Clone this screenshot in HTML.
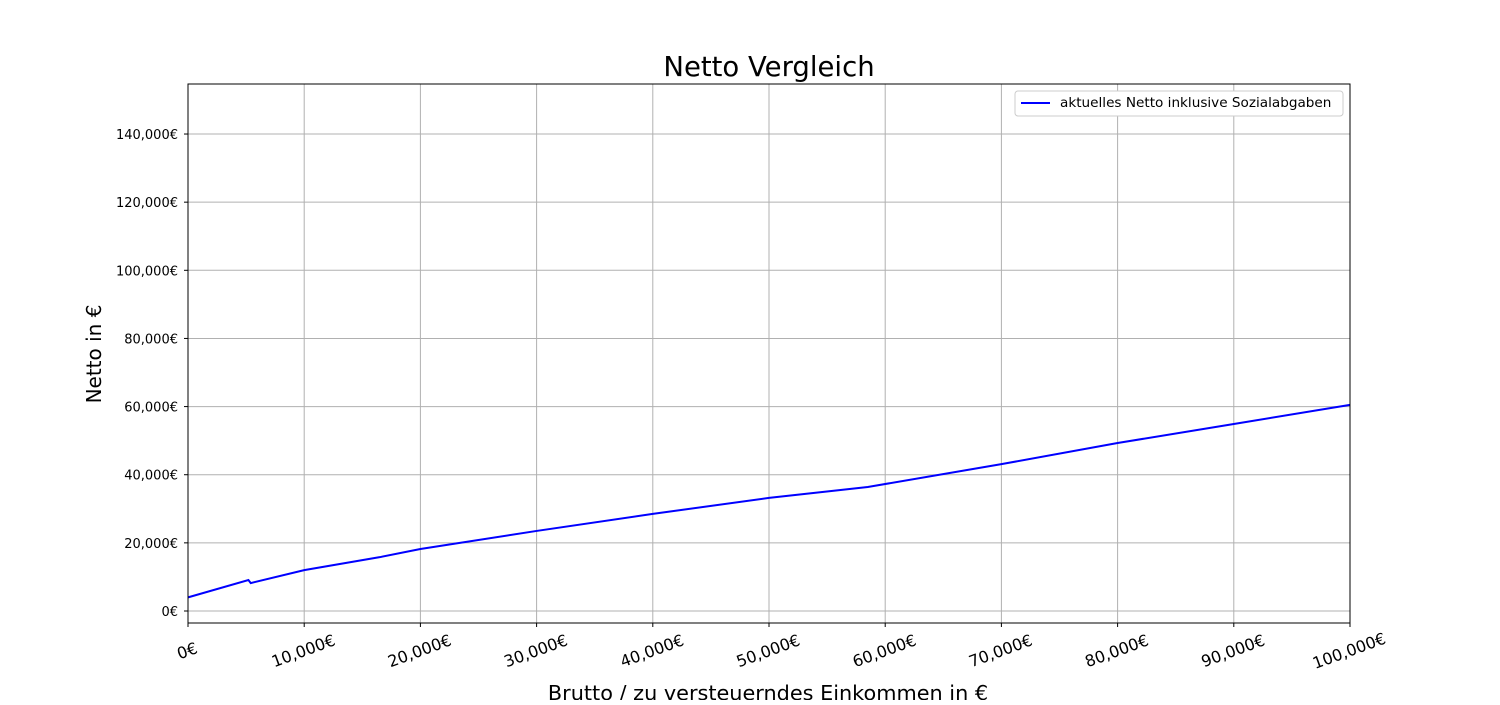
<!DOCTYPE html>
<html><head><meta charset="utf-8"><style>
body{margin:0;background:#fff;font-family:"Liberation Sans","DejaVu Sans",sans-serif}
</style></head><body>
<svg id="chart" width="1500" height="700" xmlns="http://www.w3.org/2000/svg" font-family="DejaVu Sans, Liberation Sans, sans-serif">
<text x="769" y="76" font-size="27.5" text-anchor="middle">Netto Vergleich</text>
<g id="grid"></g>
<g id="plot"></g>
<rect x="188" y="84" width="1162" height="539" fill="none" stroke="#000" stroke-width="1"/>
<g id="ticks"></g>
<text transform="translate(101,354) rotate(-90)" font-size="20" text-anchor="middle">Netto in €</text>
<text x="768" y="700" font-size="20.8" text-anchor="middle">Brutto / zu versteuerndes Einkommen in €</text>
<g>
<rect x="1015" y="91" width="328" height="25" rx="3" fill="#fff" stroke="#ccc"/>
<line x1="1021" y1="103" x2="1050" y2="103" stroke="#0000ff" stroke-width="2"/>
<text x="1060" y="107" font-size="13.6">aktuelles Netto inklusive Sozialabgaben</text>
</g>
</svg>
<script>
const xTicks=[0,10000,20000,30000,40000,50000,60000,70000,80000,90000,100000];
const yTicks=[0,20000,40000,60000,80000,100000,120000,140000];
const brutto=[0,5200,5400,10000,16500,20000,30000,40000,50000,58500,70000,80000,90000,100000];
const netto=[4000,9100,8200,12000,15800,18200,23500,28500,33200,36400,43100,49300,54900,60500];
const NS='http://www.w3.org/2000/svg';
const X=v=>188+v/100000*1162;
const Y=v=>611-v/20000*68.14;
const fmt=v=>v.toLocaleString('en-US')+'€';
const grid=document.getElementById('grid'),ticks=document.getElementById('ticks'),plot=document.getElementById('plot');
function mk(tag,attrs,parent){const e=document.createElementNS(NS,tag);for(const k in attrs)e.setAttribute(k,attrs[k]);parent.appendChild(e);return e;}
xTicks.forEach(v=>{
 const g=mk('line',{x1:X(v),x2:X(v),y1:84,y2:623,stroke:'#b0b0b0','stroke-width':1},grid);
 
 
 mk('line',{x1:X(v),x2:X(v),y1:623,y2:627,stroke:'#000'},ticks);
 const t=mk('text',{transform:`translate(${X(v)+1},${656}) rotate(-20)`,'font-size':16,'text-anchor':'middle'},ticks);
 t.textContent=fmt(v);
 
 
});
yTicks.forEach(v=>{
 const g=mk('line',{x1:188,x2:1350,y1:Y(v),y2:Y(v),stroke:'#b0b0b0','stroke-width':1},grid);
 
 
 mk('line',{x1:184,x2:188,y1:Y(v),y2:Y(v),stroke:'#000'},ticks);
 const t=mk('text',{x:178,y:Y(v)+5,'font-size':13,'text-anchor':'end'},ticks);
 t.textContent=fmt(v);
 
 
});
const p=mk('polyline',{points:brutto.map((b,i)=>X(b)+','+Y(netto[i])).join(' '),fill:'none',stroke:'#0000ff','stroke-width':2},plot);


</script>
</body></html>
